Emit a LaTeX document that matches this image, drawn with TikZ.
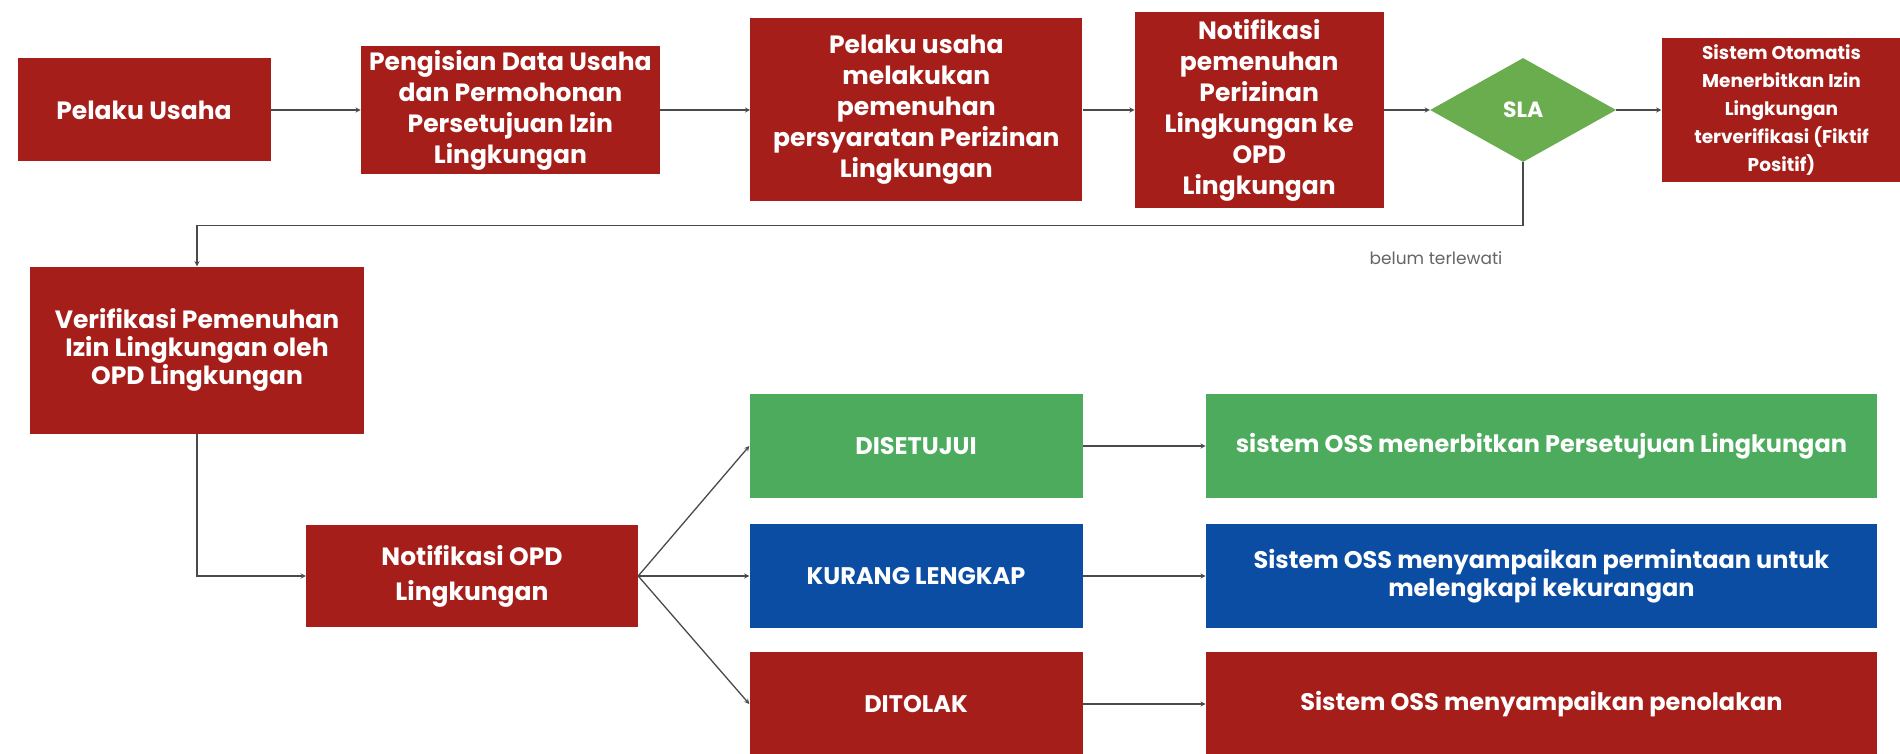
\documentclass[tikz,border=0pt]{standalone}
\usepackage{fontspec}
\setmainfont{Poppins}
\usetikzlibrary{shapes,arrows,positioning}
\definecolor{merah}{HTML}{A51E1A}
\definecolor{hijau}{HTML}{4CAB5C}
\definecolor{hijaudaun}{HTML}{6AAD4F}
\definecolor{biru}{HTML}{0B4DA2}
\definecolor{garis}{HTML}{4A4A4A}
\tikzstyle{proses} = [rectangle, fill=merah, text=white, align=center, font=\bfseries\fontsize{25}{31}\selectfont, inner sep=4pt]
\tikzstyle{putusan} = [diamond, fill=hijaudaun, text=white, font=\bfseries\fontsize{22}{30}\selectfont, minimum width=186pt, minimum height=104pt, inner sep=0pt, aspect=1.8]
\tikzstyle{hasil} = [proses, font=\bfseries\fontsize{24}{28}\selectfont, minimum width=333pt, minimum height=104pt]
\tikzstyle{panah} = [->, draw=garis, line width=1.3pt]

\begin{document}
\begin{tikzpicture}[x=1pt, y=-1pt, >=stealth]
   \useasboundingbox (0,0) rectangle (1900,754);
   % baris atas
   \node[proses, minimum width=253pt, minimum height=103pt] (pelaku) at (144,110) {Pelaku Usaha};
   \node[proses, minimum width=299pt, minimum height=128pt] (isian) [right=90pt of pelaku] {Pengisian Data Usaha\\dan Permohonan\\Persetujuan Izin\\Lingkungan};
   \node[proses, minimum width=332pt, minimum height=183pt] (penuhi) [right=90pt of isian] {Pelaku usaha\\melakukan\\pemenuhan\\persyaratan Perizinan\\Lingkungan};
   \node[proses, minimum width=249pt, minimum height=196pt] (notif) [right=52pt of penuhi] {Notifikasi\\pemenuhan\\Perizinan\\Lingkungan ke\\OPD\\Lingkungan};
   \node[putusan] (sla) [right=46pt of notif] {SLA};
   \node[proses, minimum width=240pt, minimum height=144pt, font=\bfseries\fontsize{18.5}{28}\selectfont] (otomatis) [right=45pt of sla] {Sistem Otomatis\\Menerbitkan Izin\\Lingkungan\\terverifikasi (Fiktif\\Positif)};

   % baris bawah
   \node[proses, minimum width=334pt, minimum height=167pt, font=\bfseries\fontsize{25}{28}\selectfont] (verif) at (197,350) {Verifikasi Pemenuhan\\Izin Lingkungan oleh\\OPD Lingkungan};
   \node[proses, minimum width=332pt, minimum height=102pt, font=\bfseries\fontsize{25}{35}\selectfont] (notifopd) at (472,576) {Notifikasi OPD\\Lingkungan};
   \node[hasil, fill=hijau] (setuju) at (916,446) {DISETUJUI};
   \node[hasil, fill=biru] (kurang) at (916,576) {KURANG LENGKAP};
   \node[hasil] (tolak) at (916,704) {DITOLAK};
   \node[hasil, fill=hijau, minimum width=671pt] (terbit) [right=123pt of setuju] {sistem OSS menerbitkan Persetujuan Lingkungan};
   \node[hasil, fill=biru, minimum width=671pt] (minta) [right=123pt of kurang] {Sistem OSS menyampaikan permintaan untuk\\melengkapi kekurangan};
   \node[hasil, minimum width=671pt] (tolakan) [right=123pt of tolak] {Sistem OSS menyampaikan penolakan};
   \node[text=garis!85, font=\fontsize{17}{20}\selectfont] (belum) at (1436,258) {belum terlewati};

   % panah
   \draw[panah] (pelaku) -- (isian);
   \draw[panah] (isian) -- (penuhi);
   \draw[panah] (penuhi) -- (notif);
   \draw[panah] (notif) -- (sla);
   \draw[panah] (sla) -- (otomatis);
   \draw[panah] (sla.south) -- ++(0,63) -| (verif.north);
   \draw[panah] (verif.south) |- (notifopd.west);
   \draw[panah] (notifopd.east) -- (setuju.west);
   \draw[panah] (notifopd.east) -- (kurang.west);
   \draw[panah] (notifopd.east) -- (tolak.west);
   \draw[panah] (setuju) -- (terbit);
   \draw[panah] (kurang) -- (minta);
   \draw[panah] (tolak) -- (tolakan);
\end{tikzpicture}
\end{document}
